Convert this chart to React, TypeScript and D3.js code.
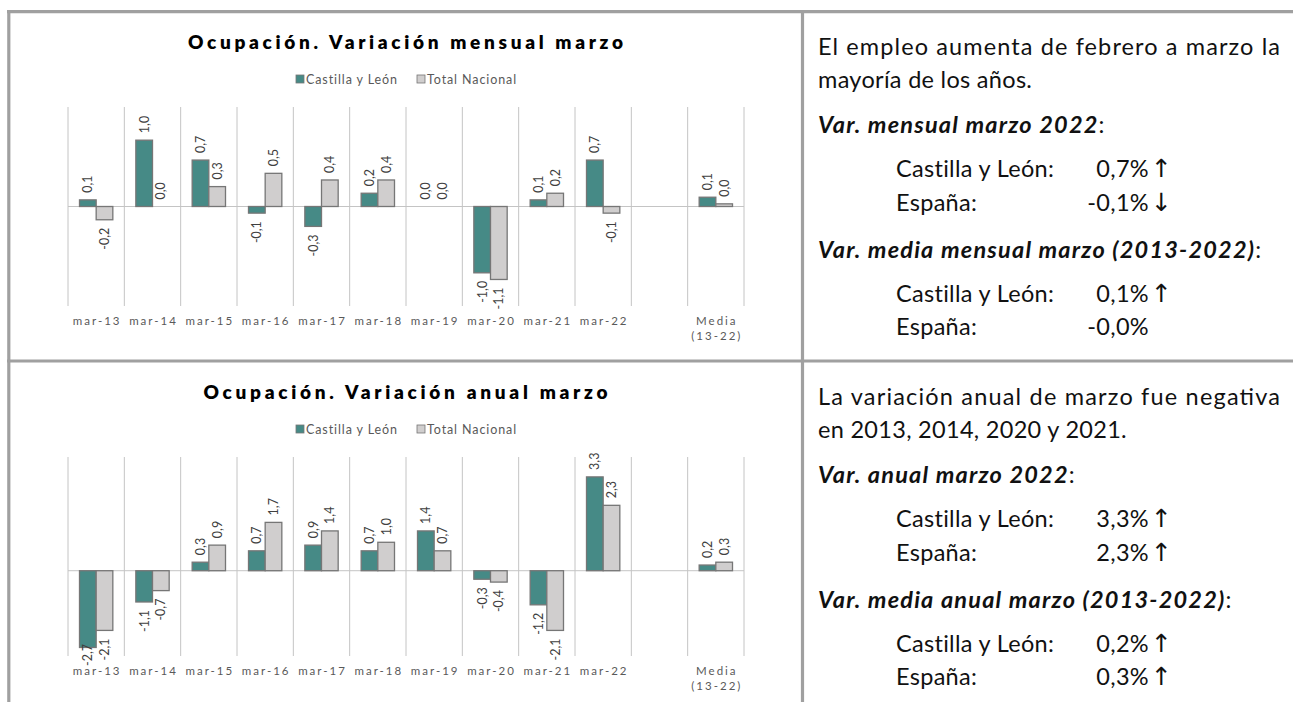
import React from "react";
import * as d3 from "d3";

// categories (blank slot before the average, like the original)
const categories = ["mar-13", "mar-14", "mar-15", "mar-16", "mar-17", "mar-18", "mar-19", "mar-20", "mar-21", "mar-22", "", "Media|(13-22)"];
const seriesNames = ["Castilla y León", "Total Nacional"];

// Variación mensual marzo (%)
const mensualCyL = [0.1, 1.0, 0.7, -0.1, -0.3, 0.2, 0.0, -1.0, 0.1, 0.7, null, 0.14];
const mensualTN = [-0.2, 0.0, 0.3, 0.5, 0.4, 0.4, 0.0, -1.1, 0.2, -0.1, null, 0.04];

// Variación anual marzo (%)
const anualCyL = [-2.7, -1.1, 0.3, 0.7, 0.9, 0.7, 1.4, -0.3, -1.2, 3.3, null, 0.2];
const anualTN = [-2.1, -0.7, 0.9, 1.7, 1.4, 1.0, 0.7, -0.4, -2.1, 2.3, null, 0.3];

// text panels
const mensualIntro = ["El empleo aumenta de febrero a marzo la", "mayoría de los años."];
const mensualHeads = ["Var. mensual marzo 2022", "Var. media mensual marzo (2013-2022)"];
const mensualRows = [
  ["Castilla y León:", "0,7%", "↑"],
  ["España:", "-0,1%", "↓"],
  ["Castilla y León:", "0,1%", "↑"],
  ["España:", "-0,0%", ""],
];
const anualIntro = ["La variación anual de marzo fue negativa", "en 2013, 2014, 2020 y 2021."];
const anualHeads = ["Var. anual marzo 2022", "Var. media anual marzo (2013-2022)"];
const anualRows = [
  ["Castilla y León:", "3,3%", "↑"],
  ["España:", "2,3%", "↑"],
  ["Castilla y León:", "0,2%", "↑"],
  ["España:", "0,3%", "↑"],
];

const locale = d3.formatLocale({ decimal: ",", thousands: ".", grouping: [3], currency: ["", "€"], minus: "-" });
const fmt = locale.format(".1f");

const fills = ["#468a86", "#d0cece"];
const barStroke = "#767676";
const gridColor = "#c4c4c4";
const chartFont = "Lato, 'DejaVu Sans', sans-serif";
const textFont = "Lato, 'Open Sans', sans-serif";
const borderColor = "#a0a0a0";

const labelWidth = (s: string, size: number) =>
  s.split("").reduce((a, c) => a + (c === "," ? 0.25 : c === "-" ? 0.35 : 0.58), 0) * size;

function BarPanel({ top, title, titleWidth, cyl, tn, domain }: any) {
  const x0 = d3.scaleBand().domain(categories.map((_, i) => String(i))).range([68, 744]);
  const x1 = d3.scaleBand().domain(seriesNames).range([0, x0.bandwidth()]).paddingOuter(0.69);
  const y = d3.scaleLinear().domain(domain).range([top + 306, top + 107]);
  const gridBottom = y.range()[0];
  const gridTop = y.range()[1];
  const bounds = categories.map((_, i) => x0(String(i)) as number).concat([x0.range()[1]]);
  const series = [cyl, tn];
  const lblSize = 12.5;

  return (
    <g>
      <text x={405.5} y={top + 48.5} textAnchor="middle" fontFamily={chartFont} fontWeight={800}
        fontSize={19} fill="#000" textLength={titleWidth} lengthAdjust="spacing">{title}</text>

      {/* legend */}
      {seriesNames.map((s, i) => {
        const lx = i === 0 ? 296 : 417;
        return (
          <g key={s}>
            <rect x={lx} y={top + 75} width={8} height={8} fill={fills[i]} stroke={barStroke} strokeWidth={0.8} />
            <text x={lx + 10} y={top + 83.5} fontFamily={chartFont} fontWeight={400} fontSize={12.5}
              letterSpacing={0.9} fill="#595959">{s}</text>
          </g>
        );
      })}

      {/* category separators */}
      {bounds.map((bx, i) => (
        <line key={i} x1={bx} x2={bx} y1={gridTop} y2={gridBottom} stroke={gridColor} strokeWidth={1} />
      ))}
      <line x1={68} x2={744} y1={y(0)} y2={y(0)} stroke={gridColor} strokeWidth={1} />

      {/* bars */}
      {categories.map((_, i) =>
        series.map((vals: (number | null)[], s: number) => {
          const v = vals[i];
          if (v == null) return null;
          const bx = (x0(String(i)) as number) + (x1(seriesNames[s]) as number);
          const bw = x1.bandwidth();
          return (
            <rect key={`${i}-${s}`} x={bx} y={y(Math.max(v, 0))} width={bw}
              height={Math.abs(y(v) - y(0))} fill={fills[s]} stroke={barStroke} strokeWidth={1.3} />
          );
        })
      )}

      {/* data labels */}
      {categories.map((_, i) =>
        series.map((vals: (number | null)[], s: number) => {
          const v = vals[i];
          if (v == null) return null;
          const cx = (x0(String(i)) as number) + (x1(seriesNames[s]) as number) + x1.bandwidth() / 2;
          const label = fmt(v);
          let ty: number;
          let anchor: string;
          if (v >= 0) {
            ty = y(v) - 7;
            anchor = "start";
          } else {
            const len = labelWidth(label, lblSize);
            ty = Math.min(y(v) + 8, gridBottom + 10 - len);
            anchor = "end";
          }
          return (
            <text key={`l${i}-${s}`} transform={`translate(${cx},${ty}) rotate(-90)`} dy="0.35em"
              textAnchor={anchor} fontFamily={chartFont} fontWeight={400} fontSize={lblSize} fill="#404040">
              {label}
            </text>
          );
        })
      )}

      {/* category labels */}
      {categories.map((c, i) => {
        const cx = (x0(String(i)) as number) + x0.bandwidth() / 2;
        const lines = c.split("|");
        return (
          <text key={`c${i}`} x={cx + 1} textAnchor="middle" fontFamily={chartFont} fontWeight={400}
            fontSize={11.5} letterSpacing={2} fill="#595959">
            {lines.map((ln, k) => (
              <tspan key={k} x={cx + 1} y={top + 325 + k * 15}>{ln}</tspan>
            ))}
          </text>
        );
      })}
    </g>
  );
}

function TextPanel({ top, intro, heads, rows }: any) {
  const fs = 23.5;
  const rowY = [177, 211, 301.5, 335];
  const headY = [133, 258];
  return (
    <g fontFamily={textFont} fontSize={fs} fill="#111">
      <text x={818} y={top + 55} textLength={462} lengthAdjust="spacing">{intro[0]}</text>
      <text x={818} y={top + 88} letterSpacing={0.3}>{intro[1]}</text>
      {heads.map((h: string, k: number) => (
        <text key={h} x={818} y={top + headY[k]} letterSpacing={1.2}>
          <tspan fontWeight={700} fontStyle="italic">{h}</tspan>
          <tspan>:</tspan>
        </text>
      ))}
      {rows.map((r: string[], k: number) => (
        <g key={k}>
          <text x={896} y={top + rowY[k]} letterSpacing={0.3}>{r[0]}</text>
          <text x={1149} y={top + rowY[k]} textAnchor="end" letterSpacing={0.3}>{r[1]}</text>
          <text x={1151} y={top + rowY[k]} fontFamily="'DejaVu Sans'" fontWeight={400}
            fontSize={25} fill="#111">{r[2]}</text>
        </g>
      ))}
    </g>
  );
}

export default function App() {
  const W = 1293;
  const H = 702;
  return (
    <svg width={W} height={H} style={{ position: "absolute", left: 0, top: 0, background: "#fff" }}>
      <rect width={W} height={H} fill="#fff" />
      <BarPanel top={0} title="Ocupación. Variación mensual marzo" titleWidth={435}
        cyl={mensualCyL} tn={mensualTN} domain={[-1.5, 1.5]} />
      <BarPanel top={350} title="Ocupación. Variación anual marzo" titleWidth={404}
        cyl={anualCyL} tn={anualTN} domain={[-3, 4]} />
      <TextPanel top={0} intro={mensualIntro} heads={mensualHeads} rows={mensualRows} />
      <TextPanel top={350} intro={anualIntro} heads={anualHeads} rows={anualRows} />

      {/* frame */}
      <g stroke={borderColor} strokeWidth={3.2} fill="none">
        <line x1={7} x2={W} y1={11.6} y2={11.6} />
        <line x1={7} x2={W} y1={361} y2={361} />
        <line x1={8.8} x2={8.8} y1={10} y2={H} />
        <line x1={802.5} x2={802.5} y1={10} y2={H} />
      </g>
    </svg>
  );
}
